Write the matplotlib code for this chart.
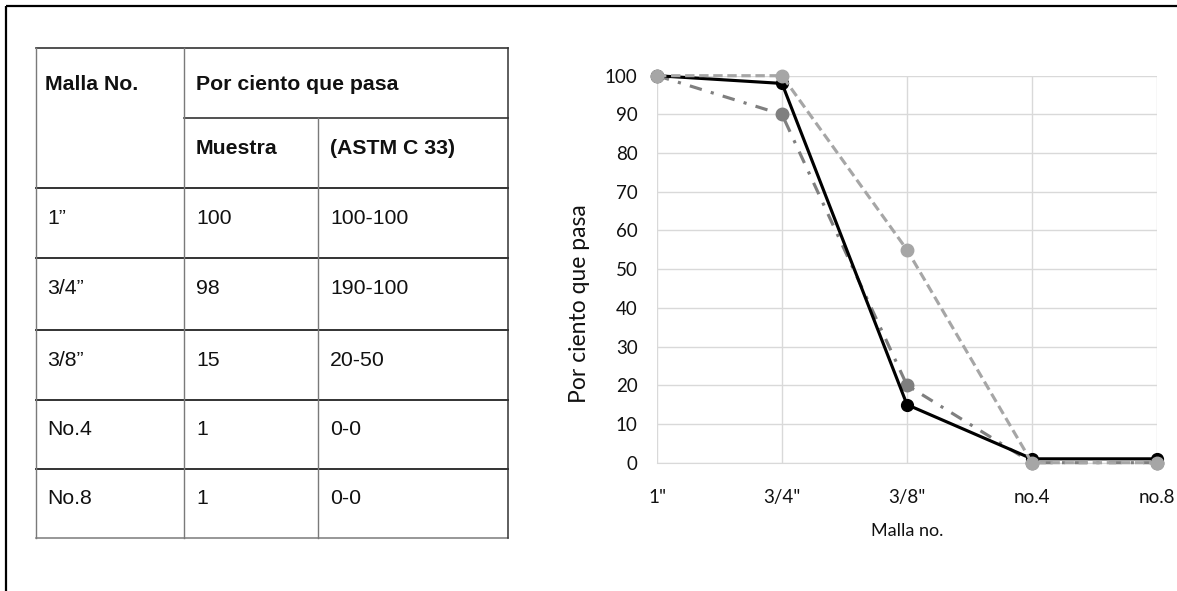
import matplotlib
matplotlib.use('Agg')
from matplotlib import pyplot as plt

# Datos de la tabla granulométrica
mallas_tabla = ['1”', '3/4”', '3/8”', 'No.4', 'No.8']
astm_tabla = ['100-100', '190-100', '20-50', '0-0', '0-0']

# Datos de la curva
categorias = ['1"', '3/4"', '3/8"', 'no.4', 'no.8']
muestra = [100, 98, 15, 1, 1]
limite_inf = [100, 90, 20, 0, 0]
limite_sup = [100, 100, 55, 0, 0]

W, H = 1177, 591
fig = plt.figure(figsize=(W / 100, H / 100), dpi=100)

# capa en pixeles para el marco y la tabla
bg = fig.add_axes([0, 0, 1, 1])
bg.set_xlim(0, W)
bg.set_ylim(H, 0)
bg.axis('off')

bg.plot([6, W], [6, 6], color='black', lw=1.6, solid_capstyle='butt')
bg.plot([6, 6], [6, H], color='black', lw=1.6, solid_capstyle='butt')

col_x = [36, 184, 318, 508]
row_y = [48, 118, 188, 258, 330, 400, 469, 538]
hcol = '#333333'
vcol = '#7a7a7a'

# lineas horizontales
bg.plot([col_x[0], col_x[3]], [row_y[0], row_y[0]], color=hcol, lw=1.2)
bg.plot([col_x[1], col_x[3]], [row_y[1], row_y[1]], color=hcol, lw=1.2)
for y in row_y[2:-1]:
    bg.plot([col_x[0], col_x[3]], [y, y], color=hcol, lw=1.4)
bg.plot([col_x[0], col_x[3]], [row_y[-1], row_y[-1]], color=vcol, lw=1.1)
# lineas verticales
bg.plot([col_x[0], col_x[0]], [row_y[0], row_y[-1]], color=vcol, lw=1.0)
bg.plot([col_x[1], col_x[1]], [row_y[0], row_y[-1]], color=vcol, lw=1.0)
bg.plot([col_x[2], col_x[2]], [row_y[1], row_y[-1]], color=vcol, lw=1.0)
bg.plot([col_x[3], col_x[3]], [row_y[0], row_y[-1]], color=hcol, lw=1.1)

tfont = dict(family='Liberation Sans', fontsize=15.3, va='center', ha='left', color='#111111')
pad = 9
bg.text(col_x[0] + pad, 84, 'Malla No.', fontweight='bold', **tfont)
bg.text(col_x[1] + pad + 3, 84, 'Por ciento que pasa', fontweight='bold', **tfont)
bg.text(col_x[1] + pad + 3, 149, 'Muestra', fontweight='bold', **tfont)
bg.text(col_x[2] + pad + 3, 149, '(ASTM C 33)', fontweight='bold', **tfont)
for i in range(len(mallas_tabla)):
    yc = (row_y[i + 2] + row_y[i + 3]) / 2 - 5
    bg.text(col_x[0] + pad + 2, yc, mallas_tabla[i], **tfont)
    bg.text(col_x[1] + pad + 3, yc, str(muestra[i]), **tfont)
    bg.text(col_x[2] + pad + 3, yc, astm_tabla[i], **tfont)

# grafica
x0, x1, ytop, ybot = 657, 1157, 75.7, 462.7
ax = fig.add_axes([x0 / W, (H - ybot) / H, (x1 - x0) / W, (ybot - ytop) / H])
xs = list(range(len(categorias)))

ax.plot(xs, limite_inf, color='#7f7f7f', lw=2.25, ls=(0, (4, 3, 1, 3)),
        marker='o', ms=9, clip_on=False, zorder=3)
ax.plot(xs, muestra, color='black', lw=2.25, marker='o', ms=8.5,
        clip_on=False, zorder=4)
ax.plot(xs, limite_sup, color='#a6a6a6', lw=2.25, ls=(0, (3, 1.5)),
        marker='o', ms=9, clip_on=False, zorder=5)

ax.set_xlim(0, len(categorias) - 1)
ax.set_ylim(0, 100)
ax.set_yticks(range(0, 101, 10))
ax.set_xticks(xs)
ax.set_xticklabels(categorias)
ax.grid(True, color='#d9d9d9', lw=1.0)
ax.set_axisbelow(True)
for s in ['top', 'right', 'left']:
    ax.spines[s].set_visible(False)
ax.spines['bottom'].set_color('#d9d9d9')
ax.tick_params(length=0, labelsize=13.5, labelcolor='#111111')
ax.tick_params(axis='y', pad=14)
ax.tick_params(axis='x', pad=19)
for lab in ax.get_xticklabels() + ax.get_yticklabels():
    lab.set_family('Lato')

ax.set_ylabel('Por ciento que pasa', family='Lato', fontsize=16.5, color='#111111')
ax.yaxis.set_label_coords(-0.134, 0.41)
ax.set_xlabel('Malla no.', family='Lato', fontsize=13, color='#111111', labelpad=12)

fig.savefig('out.png', dpi=100)
